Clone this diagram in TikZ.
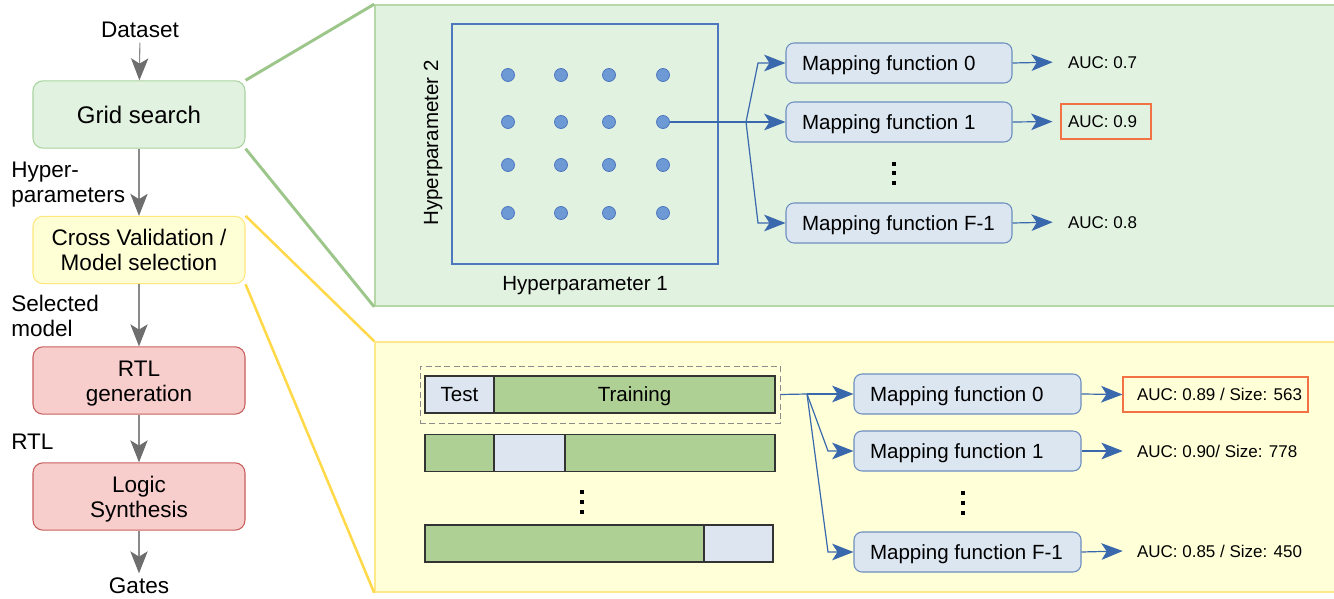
\documentclass[tikz,border=0pt]{standalone}
\usepackage{fontspec}
\setmainfont{Liberation Sans}
\usetikzlibrary{arrows.meta}
\definecolor{gsFill}{HTML}{E1F2E0}
\definecolor{gsLine}{HTML}{A9D39E}
\definecolor{gpFill}{HTML}{E2F2E1}
\definecolor{gpLine}{HTML}{B5D8A6}
\definecolor{gLink}{HTML}{9CC68A}
\definecolor{cvFill}{HTML}{FFFFD6}
\definecolor{cvLine}{HTML}{FFE67F}
\definecolor{ypFill}{HTML}{FFFFD8}
\definecolor{ypLine}{HTML}{FFE88A}
\definecolor{yLink}{HTML}{FFD94A}
\definecolor{rFill}{HTML}{F8CECC}
\definecolor{rLine}{HTML}{C7605D}
\definecolor{mFill}{HTML}{DCE6F1}
\definecolor{mLine}{HTML}{6C8EBF}
\definecolor{bArrow}{HTML}{3A68AD}
\definecolor{gridLine}{HTML}{4D78C0}
\definecolor{dotFill}{HTML}{6D9AD4}
\definecolor{barGreen}{HTML}{AED094}
\definecolor{barTest}{HTML}{DCE5F0}
\definecolor{aucLine}{HTML}{F27245}
\definecolor{grayArr}{HTML}{6E6E6E}
\definecolor{grayLine}{HTML}{8A8A8A}
\newcommand{\lbox}[2]{\makebox[#1][l]{#2}}
\newcommand{\upstrut}{\rule{0pt}{16.5pt}}
\tikzset{
  fL/.style={font=\fontsize{16.9pt}{18.75pt}\selectfont},
  fG/.style={font=\fontsize{18pt}{20pt}\selectfont},
  fM/.style={font=\fontsize{15.4pt}{18pt}\selectfont},
  fA/.style={font=\fontsize{12.75pt}{15pt}\selectfont},
  leftbox/.style={draw, rounded corners=7.5pt, minimum width=159pt, minimum height=50.5pt, align=center, line width=0.8pt, fL},
  garrow/.style={draw=grayLine, line width=0.8pt, -{Stealth[length=16.5pt,width=13pt,inset=4pt,color=grayArr]}},
  barrow/.style={draw=bArrow, line width=0.9pt, -{Stealth[length=16pt,width=12.5pt,inset=4pt,color=bArrow]}},
  bline/.style={draw=bArrow, line width=0.9pt},
  mapbox/.style={draw=mLine, fill=mFill, rounded corners=6pt, line width=0.8pt, minimum height=30pt, inner xsep=12pt, inner ysep=0pt, text height=11pt, text depth=0pt, fM},
  dotn/.style={circle, draw=gridLine, fill=dotFill, minimum size=9.75pt, inner sep=0pt, line width=0.6pt},
  sidelbl/.style={anchor=west, inner sep=0pt, align=left, fL},
  aucA/.style={minimum height=26.25pt, inner xsep=5.25pt, inner ysep=0pt, text height=9.1pt, text depth=0pt, fA},
  aucB/.style={minimum height=26.25pt, inner xsep=10.5pt, inner ysep=0pt, text height=9.1pt, text depth=0pt, fA},
  barseg/.style={draw={rgb,255:red,51;green,51;blue,51}, line width=0.8pt, minimum height=27.75pt, inner sep=0pt, text height=11pt, text depth=0pt, fM},
  vdot/.style={fill=black, minimum size=3pt, inner sep=0pt}
}
\begin{document}
\begin{tikzpicture}[x=0.75pt,y=-0.75pt]
\useasboundingbox (0,0) rectangle (1334,599);
\clip (0,0) rectangle (1334,599);

% panels
\node[draw=gpLine, fill=gpFill, line width=1.2pt, minimum width=723.75pt, minimum height=225.75pt, inner sep=0pt] (gpanel) at (857.5,155.5) {};
\node[draw=ypLine, fill=ypFill, line width=1.2pt, minimum width=723.75pt, minimum height=187.5pt, inner sep=0pt] (ypanel) at (857.5,467) {};

% left column
\node[fL] (data) at (140,30) {Dataset};
\node[leftbox, fill=gsFill, draw=gsLine, fG] (grid) at (139,114.5) {Grid search};
\node[leftbox, fill=cvFill, draw=cvLine] (cv) at (139,250) {Cross Validation /\\Model selection};
\node[leftbox, fill=rFill, draw=rLine] (rtl) at (139,380.5) {\upstrut RTL\\generation};
\node[leftbox, fill=rFill, draw=rLine] (logic) at (139,496.5) {\upstrut Logic\\Synthesis};
\node[fL] (gates) at (139,586) {Gates};

\draw[garrow] (data) -- (grid);
\draw[garrow] (grid) -- (cv);
\draw[garrow] (cv) -- (rtl);
\draw[garrow] (rtl) -- (logic);
\draw[garrow] (logic) -- (gates);

\node[sidelbl] (lhyp) at (11,185) {Hyper-\\parameters};
\node[sidelbl] (lsel) at (11,316) {Selected\\model};
\node[sidelbl] (lrtl) at (11,442) {RTL};

% zoom lines
\draw[gLink, line width=2.2pt] (grid.north east) -- (gpanel.north west);
\draw[gLink, line width=2.2pt] (grid.south east) -- (gpanel.south west);
\draw[yLink, line width=1.9pt] (cv.north east) -- (ypanel.north west);
\draw[yLink, line width=1.9pt] (cv.south east) -- (ypanel.south west);

% grid search panel
\node[draw=gridLine, line width=0.8pt, minimum width=199.5pt, minimum height=180pt, inner sep=0pt] (gridrect) at (585,144) {};
\node[fM, rotate=90] (hp2) at (433,143) {Hyperparameter 2};
\node[fM] (hp1) at (585,286) {Hyperparameter 1};
\foreach \r/\y in {1/75,2/122,3/165,4/213}{
  \foreach \c/\x in {1/508,2/561,3/609,4/663}{
    \node[dotn] (d\r\c) at (\x,\y) {};
  }
}
\node[mapbox] (mf0) at (899,63) {\lbox{145.5pt}{Mapping function 0}};
\node[mapbox] (mf1) at (899,122) {\lbox{145.5pt}{Mapping function 1}};
\node[mapbox] (mfF) at (899,223) {\lbox{145.5pt}{Mapping function F-1}};
\node[vdot] (vt1) at (894,164) {};
\node[vdot] (vt2) at (894,173.5) {};
\node[vdot] (vt3) at (894,183) {};

\coordinate (j1) at (746,122);
\coordinate (j1a) at (758,63);
\coordinate (j1c) at (758,223);
\draw[bline, line width=1.3pt] (d24) -- (j1);
\draw[barrow] (j1) -- (j1a) -- (mf0.west);
\draw[barrow] (j1) -- (mf1.west);
\draw[barrow] (j1) -- (j1c) -- (mfF.west);

\node[aucA] (a0) at (1106,62) {\lbox{57pt}{AUC: 0.7}};
\node[aucA, draw=aucLine, line width=0.8pt] (a1) at (1106,121.5) {\lbox{57pt}{AUC: 0.9}};
\node[aucA] (aF) at (1106,222) {\lbox{57pt}{AUC: 0.8}};
\draw[barrow, shorten >=6pt] (mf0.east) -- (a0.west);
\draw[barrow, shorten >=6pt] (mf1.east) -- (a1.west);
\draw[barrow, shorten >=6pt] (mfF.east) -- (aF.west);

% cross validation panel
\node[draw={rgb,255:red,140;green,140;blue,140}, dash pattern=on 4.5pt off 2.5pt, line width=0.7pt, minimum width=270pt, minimum height=42.75pt, inner sep=0pt] (sel) at (600,394.5) {};
\node[barseg, fill=barTest, minimum width=51.75pt] (t1) at (459.5,394.5) {Test};
\node[barseg, fill=barGreen, minimum width=210.75pt] (tr1) at (634.5,394.5) {Training};
\node[barseg, fill=barGreen, minimum width=262.5pt] (b2) at (600,453) {};
\node[barseg, fill=barTest, minimum width=53.25pt] (t2) at (529.5,453) {};
\node[barseg, fill=barGreen, minimum width=261pt] (b3) at (599,543.5) {};
\node[barseg, fill=barTest, minimum width=51.75pt] (t3) at (738.5,543.5) {};
\node[vdot] (vb1) at (582,492) {};
\node[vdot] (vb2) at (582,502) {};
\node[vdot] (vb3) at (582,511.5) {};

\node[mapbox] (ym0) at (967.5,394) {\lbox{146.25pt}{Mapping function 0}};
\node[mapbox] (ym1) at (967.5,451) {\lbox{146.25pt}{Mapping function 1}};
\node[mapbox] (ymF) at (967.5,552) {\lbox{146.25pt}{Mapping function F-1}};
\node[vdot] (vy1) at (963,493) {};
\node[vdot] (vy2) at (963,503) {};
\node[vdot] (vy3) at (963,513) {};

\coordinate (j2) at (807,394);
\coordinate (j2b) at (828,451);
\coordinate (j2c) at (828,552);
\draw[bline] (sel.east) -- (j2);
\draw[barrow] (j2) -- (ym0.west);
\draw[barrow] (j2) -- (j2b) -- (ym1.west);
\draw[barrow] (j2) -- (j2c) -- (ymF.west);

\node[aucB, draw=aucLine, line width=0.8pt] (ya0) at (1215.5,394.5) {\lbox{117.75pt}{AUC: 0.89 / Size: 563}};
\node[aucB] (ya1) at (1215.5,451) {\lbox{117.75pt}{AUC: 0.90/ Size: 778}};
\node[aucB] (yaF) at (1215.5,551) {\lbox{117.75pt}{AUC: 0.85 / Size: 450}};
\draw[barrow] (ym0.east) -- (ya0.west);
\draw[barrow] (ym1.east) -- (ya1.west);
\draw[barrow] (ymF.east) -- (yaF.west);
\end{tikzpicture}
\end{document}
